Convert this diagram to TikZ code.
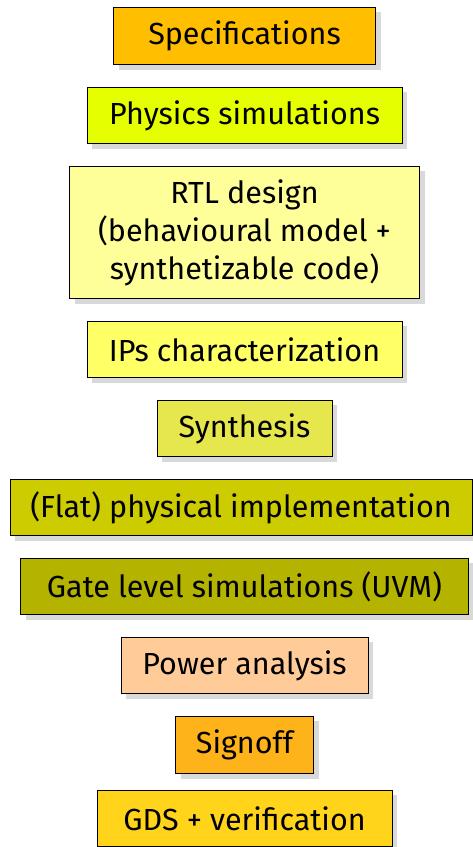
\documentclass[tikz,border=0pt]{standalone}
\usepackage{fontspec}
\setmainfont{Fira Sans}
\usepackage{xcolor}
\usetikzlibrary{positioning,shadows}
\definecolor{flowSpecOrange}{RGB}{255,191,0}
\definecolor{flowPhysLime}{RGB}{230,255,0}
\definecolor{flowRtlYellow}{RGB}{255,255,153}
\definecolor{flowIpYellow}{RGB}{255,255,102}
\definecolor{flowSynthOlive}{RGB}{230,230,77}
\definecolor{flowFlatOlive}{RGB}{204,204,0}
\definecolor{flowGateOlive}{RGB}{179,179,0}
\definecolor{flowPowerPeach}{RGB}{255,204,153}
\definecolor{flowSignAmber}{RGB}{255,179,26}
\definecolor{flowGdsGold}{RGB}{255,212,26}

\begin{document}
\begin{tikzpicture}[x=1pt,y=1pt,node distance=21.7pt,
  stage/.style={draw,line width=0.8pt,inner sep=0pt,minimum height=56.5pt,align=center,
    font=\fontsize{30.5}{38}\selectfont,
    drop shadow={shadow xshift=5pt,shadow yshift=-5pt,fill=black!15,opacity=1}}]
\useasboundingbox (0,0) rectangle (473,-847);
\node[stage,fill=flowSpecOrange,minimum width=262pt,minimum height=57.5pt] (spec) at (244.5,-36) {Specifications};
\node[stage,fill=flowPhysLime,minimum width=315pt,below=of spec] (phys) {Physics simulations};
\node[stage,fill=flowRtlYellow,minimum width=350pt,minimum height=132.5pt,below=of phys] (rtl) {RTL design\\(behavioural model +\\synthetizable code)};
\node[stage,fill=flowIpYellow,minimum width=315pt,below=of rtl] (ips) {IPs characterization};
\node[stage,fill=flowSynthOlive,minimum width=175pt,below=of ips] (synth) {Synthesis};
\node[stage,fill=flowFlatOlive,minimum width=462pt,below=of synth,xshift=-3.5pt] (flat) {(Flat) physical implementation};
\node[stage,fill=flowGateOlive,minimum width=448pt,below=of flat,xshift=3.5pt] (gate) {Gate level simulations (UVM)};
\node[stage,fill=flowPowerPeach,minimum width=247pt,below=of gate] (power) {Power analysis};
\node[stage,fill=flowSignAmber,minimum width=138pt,minimum height=57.5pt,below=of power] (signoff) {Signoff};
\node[stage,fill=flowGdsGold,minimum width=295pt,below=15.7pt of signoff] (gds) {GDS + verification};
\end{tikzpicture}
\end{document}
